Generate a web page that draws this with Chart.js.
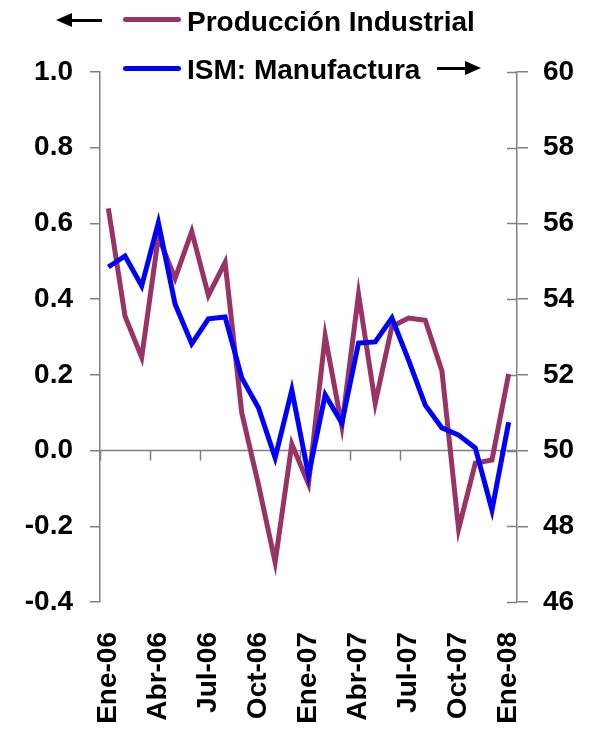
<!DOCTYPE html>
<html>
<head>
<meta charset="utf-8">
<script src="https://cdn.jsdelivr.net/npm/chart.js@4/dist/chart.umd.min.js"></script>
<style>
  body { margin: 0; background: #fff; }
  #contenedor { position: relative; width: 593px; height: 732px; }
  .leyenda { position: absolute; font: bold 28px "Liberation Sans", Arial, sans-serif; line-height: 28px; color: #000; white-space: nowrap; }
  .muestra { position: absolute; height: 5px; border-radius: 3px; }
  .linea-flecha { position: absolute; height: 3px; background: #000; }
  .punta-izq { position: absolute; width: 0; height: 0; border-top: 7px solid transparent; border-bottom: 7px solid transparent; border-right: 16px solid #000; }
  .punta-der { position: absolute; width: 0; height: 0; border-top: 7px solid transparent; border-bottom: 7px solid transparent; border-left: 16px solid #000; }
</style>
</head>
<body>
<div id="contenedor">
  <canvas id="grafico" width="593" height="732"></canvas>

  <div class="punta-izq" style="left:56px; top:13px;"></div>
  <div class="linea-flecha" style="left:70px; top:19px; width:32px;"></div>
  <div class="muestra" style="left:123px; top:17px; width:58px; background:#993366;"></div>
  <div class="leyenda" style="left:187px; top:8px;">Producción Industrial</div>

  <div class="muestra" style="left:123px; top:66px; width:58px; background:#0000ff;"></div>
  <div class="leyenda" style="left:187px; top:56px;">ISM: Manufactura</div>
  <div class="linea-flecha" style="left:437px; top:67px; width:30px;"></div>
  <div class="punta-der" style="left:465px; top:61px;"></div>
</div>

<script>
// meses (etiquetas del eje x), solo se muestra uno de cada tres
const meses = ['Ene-06','Feb-06','Mar-06','Abr-06','May-06','Jun-06','Jul-06','Ago-06','Sep-06','Oct-06','Nov-06','Dic-06',
               'Ene-07','Feb-07','Mar-07','Abr-07','May-07','Jun-07','Jul-07','Ago-07','Sep-07','Oct-07','Nov-07','Dic-07',
               'Ene-08'];

// Producción Industrial (% m/m, eje izquierdo)
const produccion = [0.64, 0.355, 0.246, 0.565, 0.455, 0.579, 0.41, 0.497, 0.1, -0.09, -0.295, 0.017, -0.088,
                    0.302, 0.065, 0.413, 0.125, 0.328, 0.35, 0.344, 0.21, -0.207, -0.033, -0.025, 0.202];

// ISM Manufactura (índice, eje derecho)
const ism = [54.85, 55.14, 54.35, 56.02, 53.87, 52.82, 53.48, 53.53, 51.92, 51.13, 49.81, 51.6, 49.35,
             51.47, 50.73, 52.84, 52.87, 53.5, 52.39, 51.2, 50.6, 50.41, 50.07, 48.43, 50.75];

const fuente = { family: '"Liberation Sans", Arial, sans-serif', size: 28, weight: 'bold' };
const gris = '#808080';

// linea del cero con marcas cada trimestre + marcas interiores del eje derecho
const ejeCero = {
    id: 'ejeCero',
    beforeDatasetsDraw(chart) {
        const ctx = chart.ctx;
        const x = chart.scales.x;
        const y = chart.scales.y;
        const y2 = chart.scales.y2;
        const area = chart.chartArea;
        const y0 = y.getPixelForValue(0);
        const paso = x.getPixelForValue(1) - x.getPixelForValue(0);

        ctx.save();
        ctx.strokeStyle = gris;
        ctx.lineWidth = 1.5;
        ctx.beginPath();
        ctx.moveTo(area.left, y0);
        ctx.lineTo(area.right, y0);
        for (let i = 0; i < meses.length; i += 3) {
            const px = Math.round(x.getPixelForValue(i) - paso / 2) + 0.5;
            ctx.moveTo(px, y0);
            ctx.lineTo(px, y0 + 10);
        }
        y2.ticks.forEach(t => {
            const py = Math.round(y2.getPixelForValue(t.value)) + 0.5;
            ctx.moveTo(area.right - 10, py);
            ctx.lineTo(area.right, py);
        });
        ctx.stroke();
        ctx.restore();
    }
};

const ctx = document.getElementById('grafico').getContext('2d');

const myChart = new Chart(ctx, {
    type: 'line',
    data: {
        labels: meses,
        datasets: [{
            label: 'Producción Industrial',
            data: produccion,
            yAxisID: 'y',
            borderColor: '#993366',
            borderWidth: 5,
            pointRadius: 0,
            tension: 0,
            fill: false,
            order: 2
        }, {
            label: 'ISM: Manufactura',
            data: ism,
            yAxisID: 'y2',
            borderColor: '#0000ff',
            borderWidth: 5,
            pointRadius: 0,
            tension: 0,
            fill: false,
            order: 1
        }]
    },
    options: {
        responsive: false,
        animation: false,
        layout: { padding: { top: 72, left: 0, right: 0, bottom: 0 } },
        plugins: {
            legend: { display: false },
            tooltip: { enabled: false }
        },
        scales: {
            x: {
                offset: true,
                grid: { display: false },
                border: { display: false },
                ticks: {
                    autoSkip: false,
                    minRotation: 90,
                    maxRotation: 90,
                    padding: 22,
                    color: '#000',
                    font: fuente,
                    callback: (v, i) => i % 3 === 0 ? meses[i] : ''
                },
                afterFit: s => { s.height = 130; }
            },
            y: {
                position: 'left',
                min: -0.4,
                max: 1.0,
                ticks: {
                    stepSize: 0.2,
                    padding: 17,
                    color: '#000',
                    font: fuente,
                    callback: v => Math.abs(v) < 1e-9 ? '0.0' : v.toFixed(1)
                },
                grid: { drawOnChartArea: false, tickLength: 10, color: gris, lineWidth: 1.5 },
                border: { color: gris, width: 1.5 },
                afterFit: s => { s.width = 100; }
            },
            y2: {
                position: 'right',
                min: 46,
                max: 60,
                ticks: {
                    stepSize: 2,
                    padding: 15,
                    color: '#000',
                    font: fuente
                },
                grid: { drawOnChartArea: false, tickLength: 11, color: gris, lineWidth: 1.5 },
                border: { color: gris, width: 1.5 },
                afterFit: s => { s.width = 76; }
            }
        }
    },
    plugins: [ejeCero]
});
</script>
</body>
</html>
